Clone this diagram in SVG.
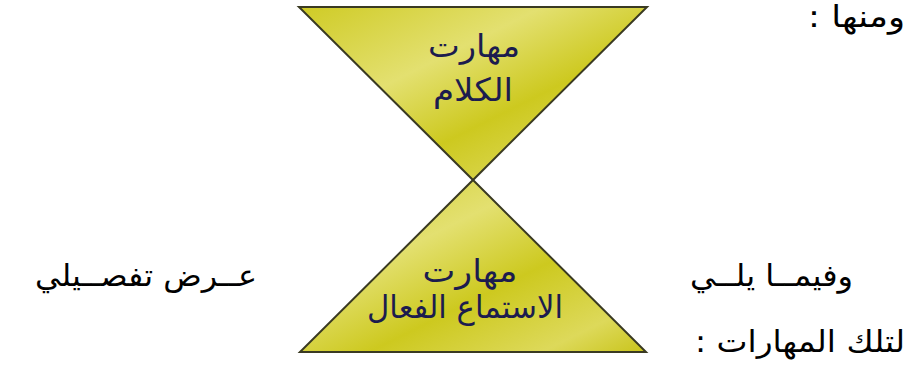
<svg xmlns="http://www.w3.org/2000/svg" width="908" height="367" viewBox="0 0 908 367">
<defs>
<linearGradient id="g1" x1="0" y1="0" x2="1" y2="1">
<stop offset="0" stop-color="#cfcb25"/>
<stop offset="0.35" stop-color="#e3e070"/>
<stop offset="0.6" stop-color="#cdc91f"/>
<stop offset="0.85" stop-color="#ddd95a"/>
<stop offset="1" stop-color="#c9c41b"/>
</linearGradient>
<style>
.tri{fill:url(#g1);stroke:#3a3a22;stroke-width:2;stroke-linejoin:miter}
.lbl{font-family:'DejaVu Sans','Liberation Sans',sans-serif;font-size:32px;fill:#1c1c4e;text-anchor:middle;direction:rtl}
.body{font-family:'DejaVu Sans','Liberation Sans',sans-serif;font-size:30px;fill:#000;direction:rtl}
</style>
</defs>
<rect width="908" height="367" fill="#fff"/>
<g id="speaking">
<polygon class="tri" points="299,7 647,7 473,180"/>
<text class="lbl" x="474" y="57" textLength="92" lengthAdjust="spacingAndGlyphs">مهارت</text>
<text class="lbl" x="473" y="101" textLength="80" lengthAdjust="spacingAndGlyphs">الكلام</text>
</g>
<g id="listening">
<polygon class="tri" points="473,180 646,352 300,352"/>
<text class="lbl" x="470" y="282" textLength="95" lengthAdjust="spacingAndGlyphs">مهارت</text>
<text class="lbl" x="465" y="318" textLength="196" lengthAdjust="spacingAndGlyphs">الاستماع الفعال</text>
</g>
<g id="connectors"></g>
<g id="text">
<text class="body" x="905" y="27" text-anchor="start" textLength="97" lengthAdjust="spacingAndGlyphs">ومنها :</text>
<text class="body" x="853" y="286" text-anchor="start" textLength="163" lengthAdjust="spacingAndGlyphs">وفيمــا يلــي</text>
<text class="body" x="257" y="286" text-anchor="start" textLength="222" lengthAdjust="spacingAndGlyphs">عــرض تفصــيلي</text>
<text class="body" x="905" y="352" text-anchor="start" textLength="210" lengthAdjust="spacingAndGlyphs">لتلك المهارات :</text>
</g>
</svg>
